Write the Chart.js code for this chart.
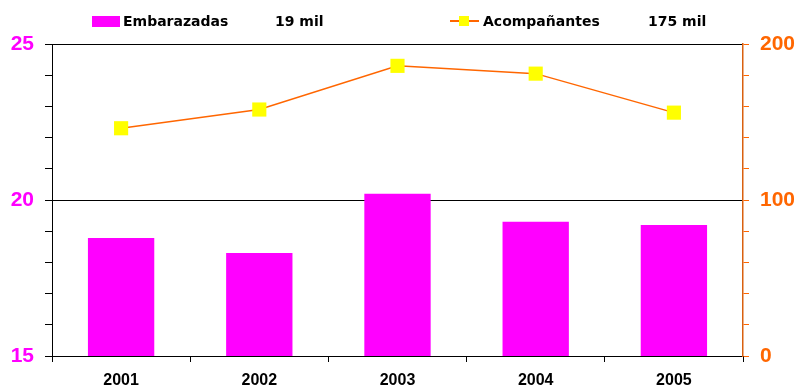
<!DOCTYPE html>
<html>
<head>
<meta charset="utf-8">
<script src="https://cdn.jsdelivr.net/npm/chart.js@4/dist/chart.umd.min.js"></script>
<style>
  html, body { margin: 0; padding: 0; background: #fff; }
  #wrap { position: relative; width: 797px; height: 387px; }
  #c { position: absolute; left: 0; top: 0; }
  .lg { position: absolute; font-family: "DejaVu Sans", sans-serif; font-weight: bold; font-size: 14px; line-height: 14px; color: #000; white-space: nowrap; }
  .box { position: absolute; }
</style>
</head>
<body>
<div id="wrap">
  <canvas id="c" width="797" height="387"></canvas>
  <div class="box" style="left:92px;top:16px;width:28px;height:11px;background:#FF00FF;"></div>
  <div class="lg" id="l1" style="left:123px;top:14px;"></div>
  <div class="lg" id="l1v" style="left:275px;top:14px;"></div>
  <div class="box" style="left:450px;top:20px;width:29px;height:2px;background:#FF6600;"></div>
  <div class="box" style="left:459px;top:16px;width:10px;height:10px;background:#FFFF00;"></div>
  <div class="lg" id="l2" style="left:483px;top:14px;"></div>
  <div class="lg" id="l2v" style="left:648px;top:14px;"></div>
</div>
<script>
const categories = ['2001', '2002', '2003', '2004', '2005'];
const embarazadas = [18.78, 18.3, 20.2, 19.3, 19.2];
const acompanantes = [146, 158, 186, 181, 156];
const leftTickLabels = [15, 20, 25];
const rightTickLabels = [0, 50, 100, 150, 200];
const seriesNames = ['Embarazadas', 'Acompañantes'];
const seriesTotals = ['19 mil', '175 mil'];

document.getElementById('l1').textContent = seriesNames[0];
document.getElementById('l1v').textContent = seriesTotals[0];
document.getElementById('l2').textContent = seriesNames[1];
document.getElementById('l2v').textContent = seriesTotals[1];

const ctx = document.getElementById('c').getContext('2d');
new Chart(ctx, {
  data: {
    labels: categories,
    datasets: [
      {
        type: 'line',
        label: seriesNames[1],
        data: acompanantes,
        yAxisID: 'yR',
        borderColor: '#FF6600',
        borderWidth: 1.5,
        backgroundColor: '#FFFF00',
        pointStyle: 'rect',
        pointRadius: 10,
        pointBackgroundColor: '#FFFF00',
        pointBorderColor: '#FFFF00',
        pointBorderWidth: 0,
        tension: 0,
        order: 0
      },
      {
        type: 'bar',
        label: seriesNames[0],
        data: embarazadas,
        yAxisID: 'yL',
        backgroundColor: '#FF00FF',
        borderWidth: 0,
        categoryPercentage: 1,
        barPercentage: 0.48,
        order: 1
      }
    ]
  },
  options: {
    responsive: false,
    animation: false,
    layout: { padding: { top: 44, left: 0, right: 0, bottom: 0 } },
    plugins: { legend: { display: false }, tooltip: { enabled: false } },
    scales: {
      x: {
        type: 'category',
        offset: true,
        grid: { offset: true, drawOnChartArea: false, tickLength: 6, tickColor: '#000', color: '#000' },
        border: { color: '#000', width: 1 },
        ticks: { color: '#000', font: { family: 'Liberation Sans', weight: 'bold', size: 16 }, padding: 9, maxRotation: 0 },
        afterFit: s => { s.height = 31; }
      },
      yL: {
        type: 'linear',
        position: 'left',
        min: 15, max: 25,
        ticks: {
          stepSize: 1,
          color: '#FF00FF',
          font: { family: 'Liberation Sans', weight: 'bold', size: 21 },
          padding: 11,
          callback: v => leftTickLabels.includes(v) ? String(v) : ''
        },
        grid: {
          color: c => (c.tick && (c.tick.value === 20 || c.tick.value === 25)) ? '#000' : 'rgba(0,0,0,0)',
          tickColor: '#000',
          tickLength: 7,
          lineWidth: 1
        },
        border: { color: '#000', width: 1 },
        afterFit: s => { s.width = 52; }
      },
      yR: {
        type: 'linear',
        position: 'right',
        min: 0, max: 200,
        ticks: {
          stepSize: 10,
          color: '#FF6600',
          font: { family: 'Liberation Sans', weight: 'bold', size: 21 },
          padding: 11,
          callback: v => rightTickLabels.includes(v) ? String(v) : ''
        },
        grid: { drawOnChartArea: false, tickColor: '#FF6600', tickLength: 6, color: '#FF6600' },
        border: { color: '#D9600F', width: 1.5 },
        afterFit: s => { s.width = 54; }
      }
    }
  }
});
</script>
</body>
</html>
